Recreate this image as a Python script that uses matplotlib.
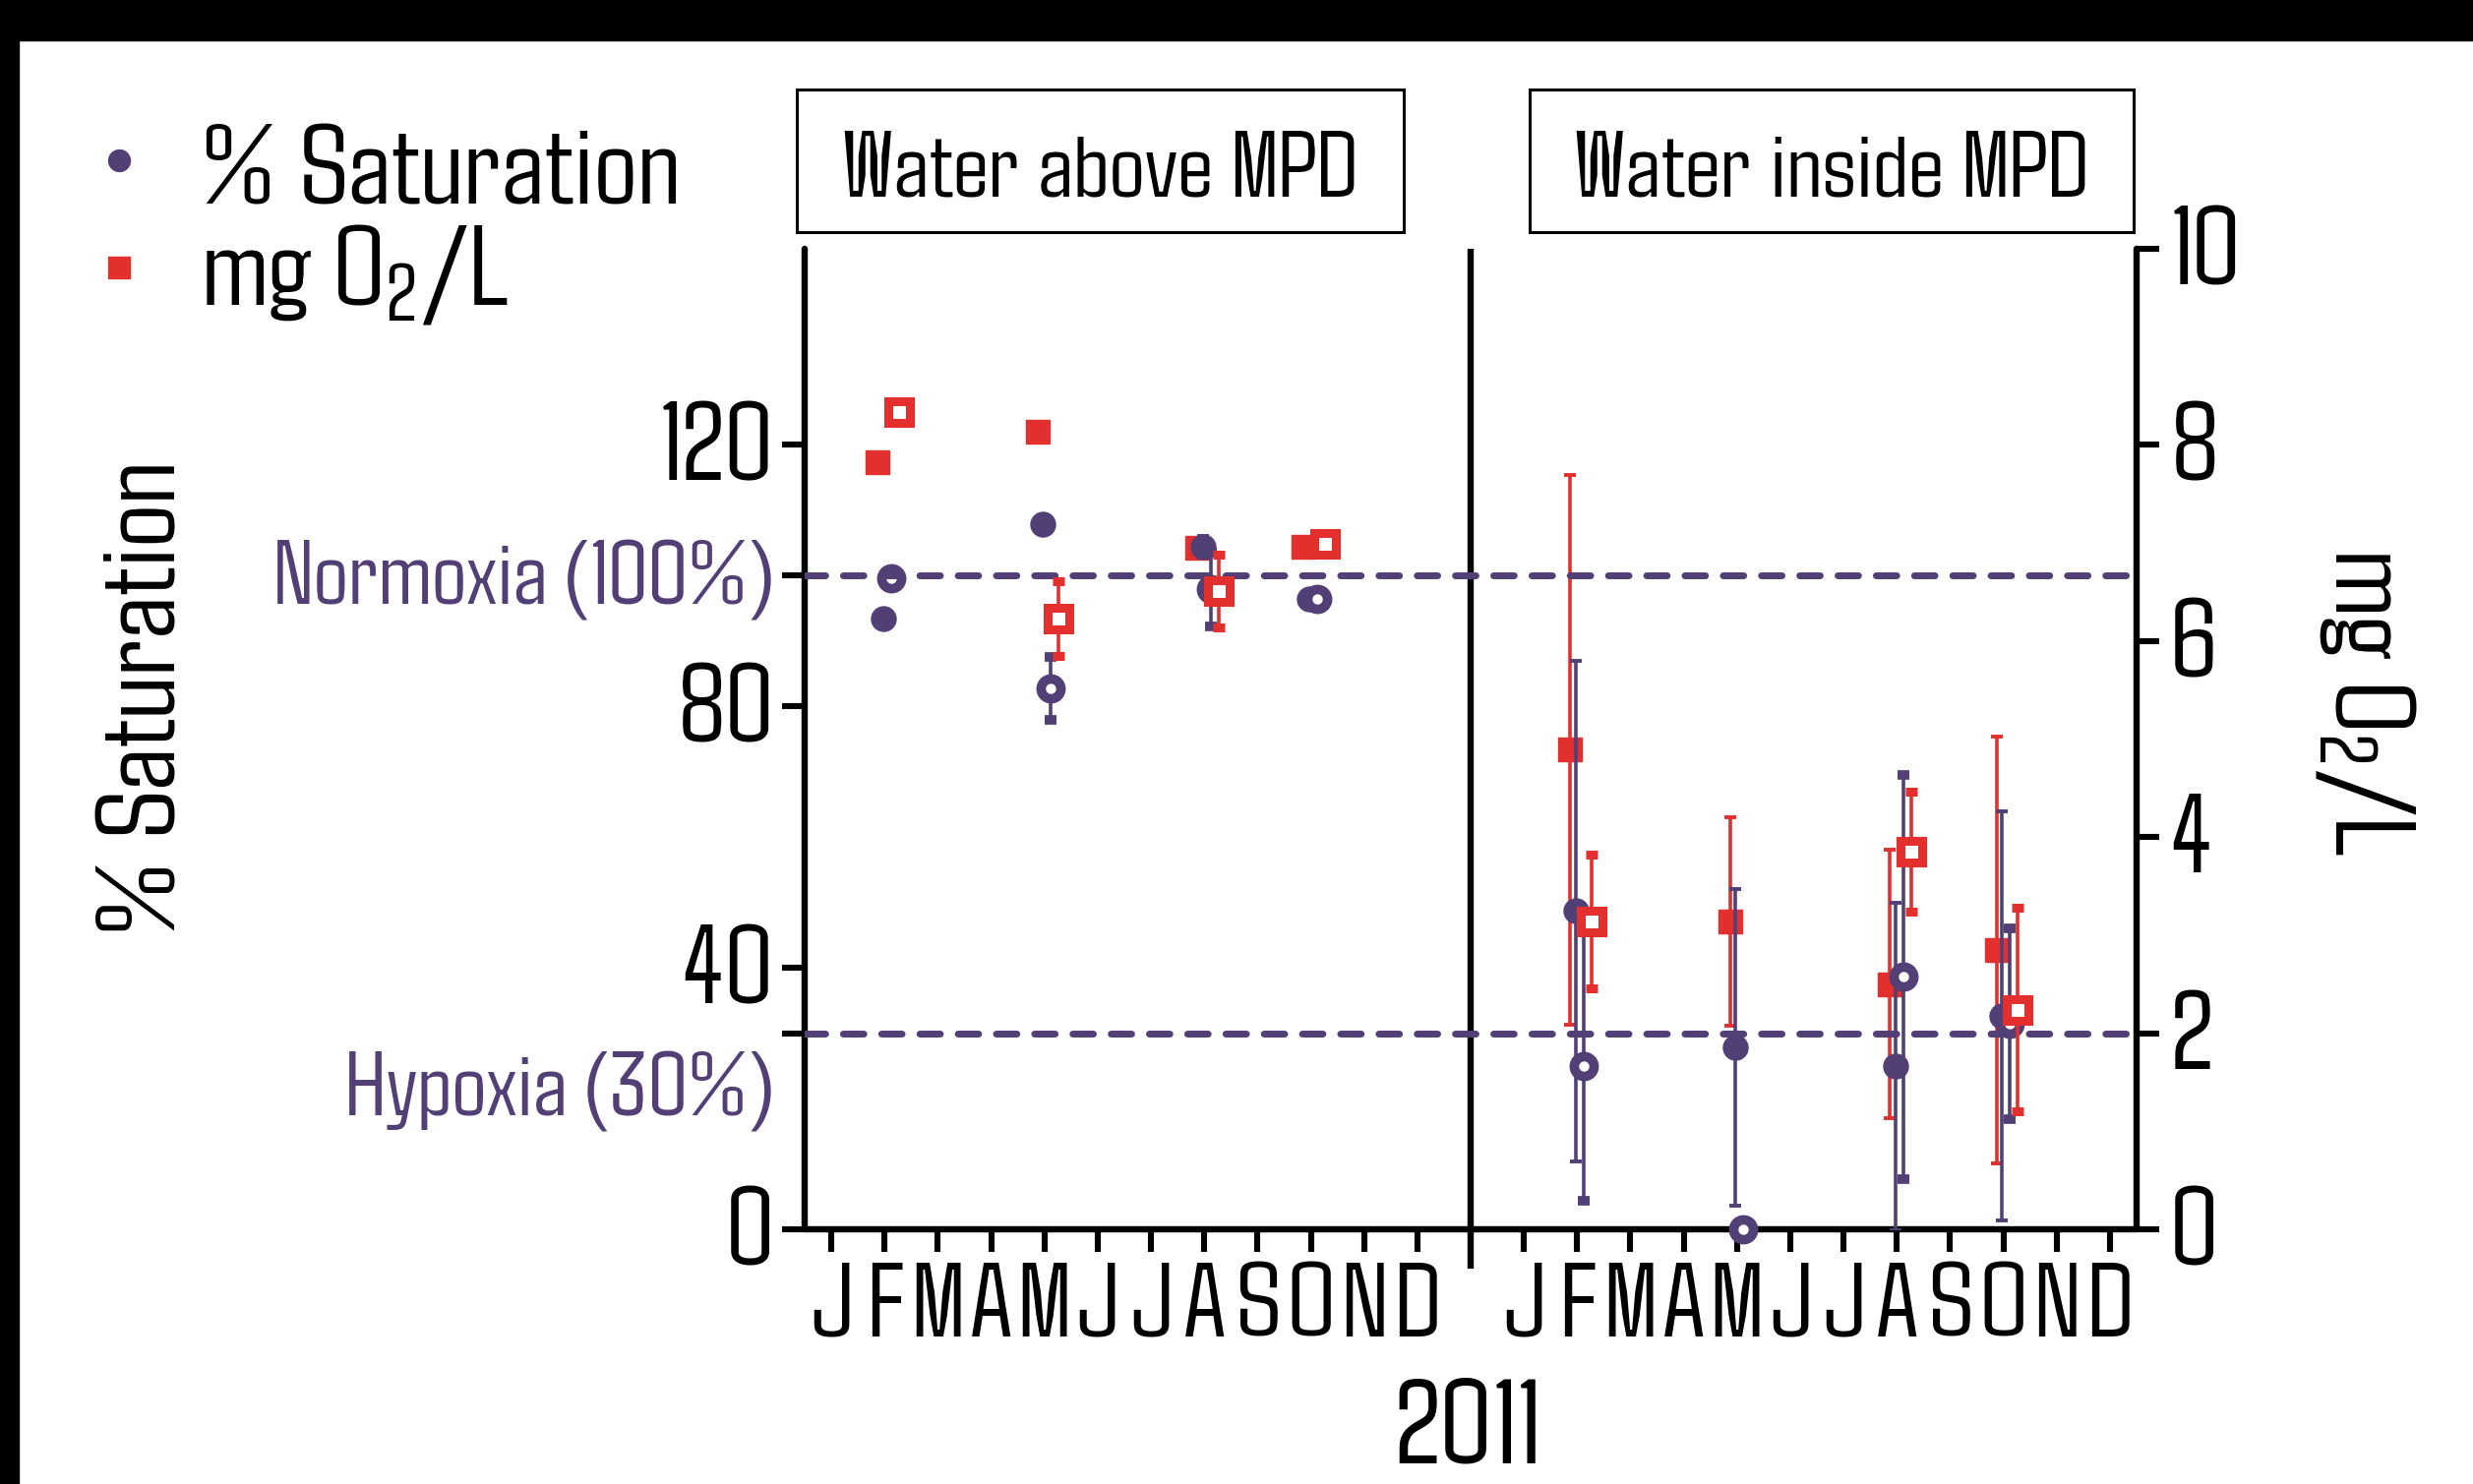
import numpy as np
import matplotlib
matplotlib.use('Agg')
import matplotlib.pyplot as plt
import matplotlib.font_manager as fm
import matplotlib.transforms as mtransforms
from matplotlib.patches import Rectangle

# narrow, squarish face close to the original slide font
avail = {f.name for f in fm.fontManager.ttflist}
FONT = next(f for f in ['Agdasima', 'Saira Extra Condensed', 'Barlow Condensed', 'DejaVu Sans']
            if f in avail or f == 'DejaVu Sans')
plt.rcParams['font.family'] = [FONT, 'DejaVu Sans']
plt.rcParams['mathtext.default'] = 'regular'

PURPLE = '#523f76'
RED = '#e3302f'

# data ------------------------------------------------------------------
month_labels = ['J', 'F', 'M', 'A', 'M', 'J', 'J', 'A', 'S', 'O', 'N', 'D']
sample_months = [2, 5, 8, 10]          # Feb, May, Aug, Oct
panel_titles = ['Water above MPD', 'Water inside MPD']

# water above MPD
above_sat_filled = [93.4, 107.9, 104.4, 96.4]
above_sat_filled_err = [0, 0, 1.6, 0]
above_sat_open = [99.6, 82.7, 97.9, 96.4]
above_sat_open_err = [0, 4.8, 5.6, 0]
above_mg_filled = [7.82, 8.13, 6.95, 6.96]
above_mg_filled_err = [0, 0.05, 0.1, 0]
above_mg_open = [8.34, 6.23, 6.51, 6.99]
above_mg_open_err = [0, 0.38, 0.37, 0]

# water inside MPD
inside_sat_filled = [48.7, 27.8, 24.9, 32.7]
inside_sat_filled_err = [38.3, 24.2, 25.0, 31.3]
inside_sat_open = [24.9, 0.0, 38.6, 31.5]
inside_sat_open_err = [20.6, 0.0, 30.9, 14.6]
inside_mg_filled = [4.89, 3.14, 2.50, 2.85]
inside_mg_filled_err = [2.80, 1.06, 1.37, 2.18]
inside_mg_open = [3.14, np.nan, 3.85, 2.24]
inside_mg_open_err = [0.68, np.nan, 0.61, 1.04]

normoxia = 100
hypoxia = 30
year = '2011'

# layout ----------------------------------------------------------------
W, H = 2514, 1509
fig = plt.figure(figsize=(W / 100, H / 100), dpi=100)
fig.patch.set_facecolor('white')

x0, x1, y0, y1 = 818, 2172, 253, 1250
ax = fig.add_axes([x0 / W, 1 - y1 / H, (x1 - x0) / W, (y1 - y0) / H])
ax2 = ax.twinx()      # mg scale, filled squares + right spine
ax3 = ax.twinx()      # mg scale, open squares on top
ax2.set_zorder(1)
ax.set_zorder(2)
ax3.set_zorder(3)
for a in (ax, ax2, ax3):
    a.patch.set_visible(False)
ax3.axis('off')

PANEL_SHIFT = 13
ax.set_xlim(0.5, 25.5)
ax.set_ylim(0, 150)
ax2.set_ylim(0, 10)
ax3.set_ylim(0, 10)

lw_axis = 4.6
for s in ['top', 'right']:
    ax.spines[s].set_visible(False)
for s in ['top', 'left', 'bottom']:
    ax2.spines[s].set_visible(False)
for a, s in [(ax, 'left'), (ax, 'bottom'), (ax2, 'right')]:
    a.spines[s].set_linewidth(lw_axis)
    a.spines[s].set_capstyle('round')

xt = list(range(1, 13)) + [m + PANEL_SHIFT for m in range(1, 13)]
ax.set_xticks(xt)
ax.set_xticklabels(month_labels * 2, fontsize=78)
ax.set_yticks([0, 40, 80, 120])
ax.set_yticks([hypoxia, normoxia], minor=True)
ax.tick_params(axis='both', which='both', direction='out', length=16.5, width=4.4)
ax.tick_params(axis='y', labelsize=82, pad=6)
ax.tick_params(axis='x', pad=13)
ax2.set_yticks([0, 2, 4, 6, 8, 10])
ax2.tick_params(axis='y', direction='out', length=16.5, width=4.4, labelsize=82, pad=8)

# divider between the two panels
ax.vlines(PANEL_SHIFT, -6, 150, color='black', lw=lw_axis, clip_on=False)

# reference lines (drawn on top of the circles)
lvl_tr = mtransforms.blended_transform_factory(ax3.transAxes, ax.transData)
for lvl in (normoxia, hypoxia):
    ax3.plot([0, 1], [lvl, lvl], transform=lvl_tr, color=PURPLE, lw=5,
             ls=(0, (3.0, 2.6)), dash_capstyle='round', zorder=1)

lab_tr = mtransforms.blended_transform_factory(fig.transFigure, ax.transData)
ax.text(786 / W, normoxia - 0.7, 'Normoxia (100%)', transform=lab_tr, ha='right', va='center',
        fontsize=67, color=PURPLE, clip_on=False)
ax.text(786 / W, 21, 'Hypoxia (30%)', transform=lab_tr, ha='right', va='center',
        fontsize=67, color=PURPLE, clip_on=False)

# markers
err_kw = dict(elinewidth=2.6, capsize=4.2, capthick=2.8, ls='none')
off = {'sf': -0.13, 'cf': -0.03, 'co': 0.12, 'so': 0.27}


def draw_panel(shift, sat_f, sat_f_e, sat_o, sat_o_e, mg_f, mg_f_e, mg_o, mg_o_e):
    xs = np.array(sample_months, dtype=float) + shift
    ax2.errorbar(xs + off['sf'], mg_f, yerr=mg_f_e, fmt='s', color=RED, ms=17.5,
                 mec=RED, zorder=2, **err_kw)
    ax.errorbar(xs + off['cf'], sat_f, yerr=sat_f_e, fmt='o', color=PURPLE, ms=18,
                mec=PURPLE, zorder=3, **err_kw)
    ax.errorbar(xs + off['co'], sat_o, yerr=sat_o_e, fmt='o', color=PURPLE, ms=14.5,
                mfc='white', mec=PURPLE, mew=7, zorder=3, clip_on=False, **err_kw)
    ax3.errorbar(xs + off['so'], mg_o, yerr=mg_o_e, fmt='s', color=RED, ms=16.5,
                 mfc='white', mec=RED, mew=6.5, zorder=2, **err_kw)


draw_panel(0, above_sat_filled, above_sat_filled_err, above_sat_open, above_sat_open_err,
           above_mg_filled, above_mg_filled_err, above_mg_open, above_mg_open_err)
draw_panel(PANEL_SHIFT, inside_sat_filled, inside_sat_filled_err, inside_sat_open,
           inside_sat_open_err, inside_mg_filled, inside_mg_filled_err, inside_mg_open,
           inside_mg_open_err)

# axis labels
fig.text(151 / W, 1 - 710 / H, '% Saturation', rotation=90, ha='center', va='center', fontsize=83)
fig.text(2405 / W, 1 - 713 / H, 'mg O$_2$/L', rotation=270, ha='center', va='center', fontsize=84)
fig.text(1491 / W, 1 - 1507 / H, year, ha='center', va='bottom', fontsize=88)

# panel title boxes
for (bx0, bx1), title in zip([(810, 1427), (1555, 2169)], panel_titles):
    fig.patches.append(Rectangle((bx0 / W, 1 - 236 / H), (bx1 - bx0) / W, 145 / H,
                                 transform=fig.transFigure, fill=False, ec='black', lw=2.2))
    fig.text((bx0 + bx1) / 2 / W, 1 - 200 / H, title, ha='center', va='baseline', fontsize=69)

# legend
fig.lines.append(plt.Line2D([121 / W], [1 - 163 / H], transform=fig.transFigure, marker='o',
                            ms=15.8, color=PURPLE, ls='none'))
fig.lines.append(plt.Line2D([121 / W], [1 - 272 / H], transform=fig.transFigure, marker='s',
                            ms=15.8, color=RED, ls='none'))
fig.text(204 / W, 1 - 208 / H, '% Saturation', ha='left', va='baseline', fontsize=84)
fig.text(204 / W, 1 - 310 / H, 'mg O$_2$/L', ha='left', va='baseline', fontsize=84)

# black frame bits of the original slide
fig.patches.append(Rectangle((0, 1 - 41 / H), 1, 41 / H, transform=fig.transFigure,
                             color='black', zorder=10))
fig.patches.append(Rectangle((0, 0), 19 / W, 1, transform=fig.transFigure,
                             color='black', zorder=10))

fig.savefig('out.png', dpi=100)
